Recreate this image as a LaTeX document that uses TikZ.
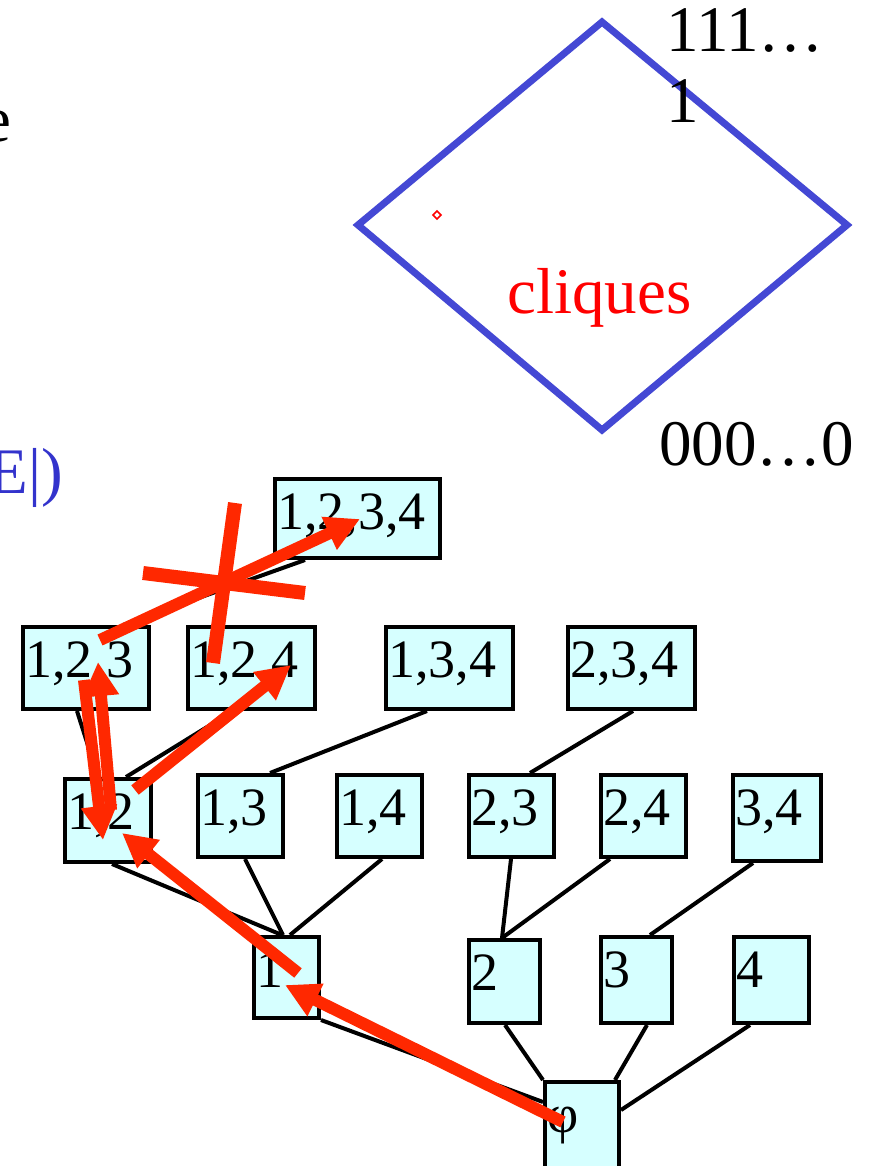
\documentclass[tikz,border=0pt]{standalone}
\usepackage{fontspec}
\setmainfont{Liberation Serif}
\usetikzlibrary{arrows.meta}
\definecolor{boxfill}{RGB}{214,255,255}
\definecolor{arrowred}{RGB}{255,40,0}
\definecolor{diamondblue}{RGB}{68,72,212}
\definecolor{labelblue}{RGB}{51,51,204}
\begin{document}
\begin{tikzpicture}[x=1pt,y=-1pt,
  setbox/.style 2 args={draw, line width=4pt, fill=boxfill, inner xsep=2pt, inner ysep=0pt,
    anchor=north west, align=left, text width=#1, text height=50pt, text depth=#2,
    font=\fontsize{54}{60}\selectfont},
  edge/.style={line width=4pt},
  redarrow/.style={draw=arrowred, line width=12pt, -{Triangle[length=34pt,width=34pt]}},
  bigtext/.style={inner sep=0pt, font=\fontsize{65}{71}\selectfont}]
\useasboundingbox (0,0) rectangle (871,1166);
\clip (0,0) rectangle (871,1166);

\draw[diamondblue, line width=7pt] (602,22) -- (847,225) -- (602,430) -- (358,225) -- cycle;
\draw[red, line width=1.5pt] (437,211) -- (441,215) -- (437,219) -- (433,215) -- cycle;
\node[bigtext, align=left, anchor=base west] (top) at (666,123) {111…\\1};
\node[bigtext, anchor=base west] (bottom) at (659,465) {000…0};
\node[bigtext, text=red, anchor=base west] (cliq) at (507,313) {cliques};
\node[bigtext, text=labelblue, anchor=base east] (cost) at (63,493) {E|)};
\node[bigtext, anchor=base east] (word) at (12,142) {e};

\node[setbox={161pt}{29pt}] (n1234) at (273,477) {1,2,3,4};
\node[setbox={122pt}{32pt}] (n123) at (21,625) {1,2,3};
\node[setbox={123pt}{32pt}] (n124) at (186,625) {1,2,4};
\node[setbox={123pt}{32pt}] (n134) at (384,625) {1,3,4};
\node[setbox={123pt}{32pt}] (n234) at (566,625) {2,3,4};
\node[setbox={82pt}{33pt}] (n12) at (63,777) {1,2};
\node[setbox={81pt}{32pt}] (n13) at (196,773) {1,3};
\node[setbox={81pt}{32pt}] (n14) at (335,773) {1,4};
\node[setbox={81pt}{32pt}] (n23) at (467,773) {2,3};
\node[setbox={81pt}{32pt}] (n24) at (599,773) {2,4};
\node[setbox={84pt}{36pt}] (n34) at (731,773) {3,4};
\node[setbox={61pt}{31pt}] (n1) at (252,935) {1};
\node[setbox={67pt}{33pt}] (n2) at (467,938) {2};
\node[setbox={67pt}{36pt}] (n3) at (599,935) {3};
\node[setbox={71pt}{36pt}] (n4) at (732,935) {4};
\node[setbox={70pt}{60pt}] (nphi) at (543,1080) {φ};

\draw[edge] ([xshift=32pt]n1234.south west) -- ([xshift=102pt]n123.north west);
\draw[edge] ([xshift=56pt]n123.south west) -- ([xshift=35pt]n12.north west);
\draw[edge] ([xshift=47pt]n124.south west) -- ([xshift=63pt]n12.north west);
\draw[edge] ([xshift=43pt]n134.south west) -- ([xshift=74pt]n13.north west);
\draw[edge] ([xshift=67pt]n234.south west) -- ([xshift=63pt]n23.north west);
\draw[edge] ([xshift=49pt]n12.south west) -- ([xshift=30pt]n1.north west);
\draw[edge] ([xshift=49pt]n13.south west) -- ([xshift=31pt]n1.north west);
\draw[edge] ([xshift=47pt]n14.south west) -- ([xshift=38pt]n1.north west);
\draw[edge] ([xshift=44pt]n23.south west) -- ([xshift=35pt]n2.north west);
\draw[edge] ([xshift=11pt]n24.south west) -- ([xshift=35pt]n2.north west);
\draw[edge] ([xshift=22pt]n34.south west) -- ([xshift=51pt]n3.north west);
\draw[edge] (n1.south east) -- ([yshift=-22pt]nphi.north west);
\draw[edge] ([xshift=38pt]n2.south west) -- (nphi.north west);
\draw[edge] ([xshift=48pt]n3.south west) -- ([xshift=72pt]nphi.north west);
\draw[edge] ([xshift=18pt]n4.south west) -- ([yshift=-30pt]nphi.north east);

\draw[redarrow] ([xshift=20pt,yshift=-42pt]nphi.north west) -- ([xshift=33pt,yshift=-50pt]n1.north west);
\draw[redarrow] ([xshift=46pt,yshift=-38pt]n1.north west) -- ([xshift=59pt,yshift=-56pt]n12.north west);
\draw[redarrow] ([xshift=72pt,yshift=-13pt]n12.north west) -- ([xshift=105pt,yshift=-40pt]n124.north west);
\draw[redarrow] ([xshift=48pt,yshift=-33pt]n12.north west) -- ([xshift=77pt,yshift=-37pt]n123.north west);
\draw[redarrow] ([xshift=63pt,yshift=-55pt]n123.north west) -- ([xshift=40pt,yshift=-63pt]n12.north west);
\draw[redarrow] ([xshift=79pt,yshift=-15pt]n123.north west) -- ([xshift=87pt,yshift=-42pt]n1234.north west);
\draw[arrowred, line width=14pt] (235,503) -- (213,663);
\draw[arrowred, line width=14pt] (143,573) -- (305,593);
\end{tikzpicture}
\end{document}
